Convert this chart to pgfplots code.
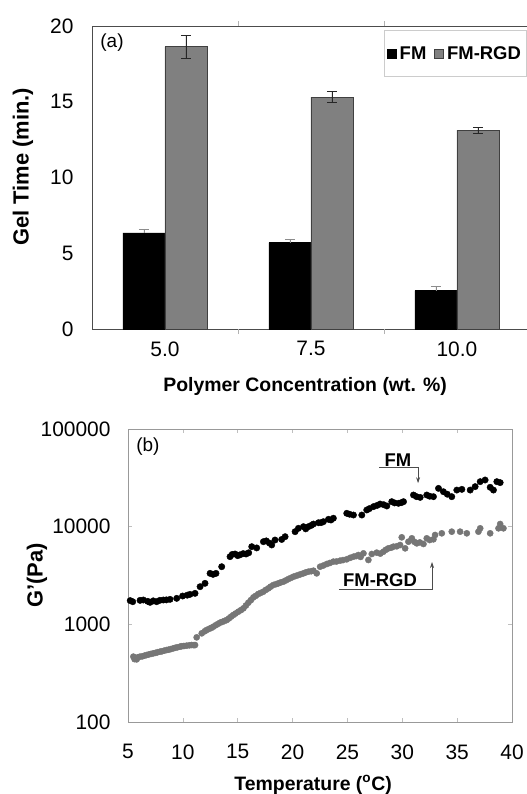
\documentclass[border=0pt]{standalone}
\usepackage{pgfplots}
\pgfplotsset{compat=1.18}
\usepackage{fontspec}
\setmainfont{Liberation Sans}
\usetikzlibrary{arrows.meta}
\definecolor{rgdbar}{HTML}{808080}
\definecolor{rgddot}{HTML}{767676}
\begin{document}
\begin{tikzpicture}
\path[use as bounding box] (0bp,0bp) rectangle (527bp,-794bp);
% ---------- (a) gel time bars ----------
\begin{axis}[
  at={(92bp,-329bp)}, anchor=south west,
  scale only axis, width=435bp, height=303bp,
  xmin=-0.5, xmax=2.48, ymin=0, ymax=20,
  ybar=0pt, bar width=42bp,
  xtick={0,1,2}, xticklabels={5.0,7.5,10.0},
  ytick={0,5,10,15,20},
  major tick length=0pt,
  extra x ticks={0.5,1.5}, extra x tick labels={},
  extra x tick style={major tick length=5bp, tick style={gray!60}},
  axis line style={draw=black!70, line width=0.8pt},
  tick label style={font=\fontsize{21}{24}\selectfont},
  /pgf/number format/assume math mode=true,
  xticklabel shift=9bp, yticklabel shift=15bp,
  label style={font=\fontsize{19.5}{22}\selectfont\bfseries},
  xlabel={Polymer Concentration (wt. \%)},
  ylabel={Gel Time (min.)},
  xlabel style={at={(axis description cs:0.49,-0.19)}, anchor=center},
  ylabel style={at={(axis description cs:-0.159,0.535)}, anchor=center,
    font=\fontsize{22}{24}\selectfont\bfseries},
  legend image code/.code={\draw[#1] (0bp,-4.5bp) rectangle (9bp,4.5bp);},
  legend columns=2,
  legend style={at={(axis description cs:0.998,0.987)}, anchor=north east,
    draw=black!20, line width=0.6pt, inner xsep=3bp, inner ysep=14bp,
    font=\fontsize{18.5}{22}\selectfont\bfseries,
    /tikz/every odd column/.append style={column sep=1bp},
    /tikz/every even column/.append style={column sep=6bp}},
]
\addplot[fill=black, draw=black, line width=0.6pt,
  error bars/.cd, y dir=plus, y explicit,
  error bar style={black!45, line width=0.6pt},
  error mark options={rotate=90, black!45, mark size=5bp, line width=0.6pt}]
  coordinates {(0,6.34) +- (0,0.21) (1,5.70) +- (0,0.20) (2,2.53) +- (0,0.30)};
\addplot[fill=rgdbar, draw=black!75, line width=0.8pt,
  error bars/.cd, y dir=both, y explicit,
  error bar style={black!85, line width=0.8pt},
  error mark options={rotate=90, black!85, mark size=5bp, line width=0.8pt}]
  coordinates {(0,18.63) +- (0,0.75) (1,15.31) +- (0,0.37) (2,13.12) +- (0,0.20)};
\legend{FM,FM-RGD}
\node[font=\fontsize{19}{22}\selectfont] at (axis description cs:0.046,0.944) {(a)};
\end{axis}
% ---------- (b) storage modulus ----------
\begin{axis}[
  at={(128bp,-722bp)}, anchor=south west,
  scale only axis, width=384bp, height=293bp,
  xmin=5, xmax=40, ymode=log, ymin=100, ymax=100000,
  xtick={5,10,...,40},
  ytick={100,1000,10000,100000}, yticklabels={100,1000,10000,100000},
  yminorticks=false,
  major tick length=4bp, tick style={gray!50, line width=0.6pt},
  axis line style={draw=black!40, line width=0.8pt},
  tick label style={font=\fontsize{21}{24}\selectfont},
  /pgf/number format/assume math mode=true,
  xticklabel shift=19bp, yticklabel shift=14bp,
  label style={font=\fontsize{19.5}{22}\selectfont\bfseries},
  xlabel={Temperature (\textsuperscript{o}C)},
  ylabel={G'(Pa)},
  xlabel style={at={(axis description cs:0.482,-0.215)}, anchor=center},
  ylabel style={at={(axis description cs:-0.237,0.5)}, anchor=center,
    font=\fontsize{22}{24}\selectfont\bfseries},
]
\addplot[only marks, mark=*, mark size=3.2bp, mark options={fill=black, draw=black}]
  coordinates {
(5.2,1750)(5.43,1706)(6.1,1760)(6.40,1775)(6.8,1720)(7.01,1680)(7.3,1740)(7.61,1706)
(7.9,1760)(8.22,1775)(8.5,1780)(8.83,1803)(9.44,1846)(9.98,1950)(10.4,1990)(10.65,2028)
(11.11,2077)(11.57,2430)(12.02,2630)(12.48,3327)(12.75,3250)(13.02,3327)(13.54,3892)
(14.30,4930)(14.5,5200)(14.76,5250)(15.0,5050)(15.21,5150)(15.5,5300)(15.76,5250)
(16.0,5400)(16.28,6240)(16.73,6060)(17.34,7020)(17.6,7150)(17.89,6800)(18.1,6500)
(18.40,7300)(19.01,7400)(19.32,7900)(20.23,8890)(20.53,9620)(20.99,10000)(21.2,9500)
(21.44,10000)(21.7,10300)(21.90,10640)(22.36,10980)(22.6,11000)(22.81,11250)(23.27,11890)
(23.5,11700)(23.72,12200)(24.94,13700)(25.2,13400)(25.55,13160)(26.31,13160)(26.76,14820)
(27.0,15300)(27.37,16030)(27.7,16500)(27.98,17060)(28.3,16800)(28.59,16290)(29.04,18030)
(29.30,17500)(29.65,17340)(29.9,17600)(30.11,18030)(31.02,21100)(31.3,20300)(31.63,19950)
(32.23,21100)(32.5,20500)(32.84,20280)(33.30,24660)(33.75,22800)(34.1,21500)(34.51,20280)
(34.97,23700)(35.43,24100)(36.19,23700)(36.64,25700)(37.10,28900)(37.55,30050)(38.01,25300)
(38.31,23700)(38.62,28900)(38.92,28250)
  };
\addplot[only marks, mark=*, mark size=3.1bp, mark options={fill=rgddot, draw=rgddot}]
  coordinates {
(5.49,467)(5.6,440)(5.79,438)(5.9,460)(6.09,467)(6.3,470)(6.5,478)(6.70,485)(6.9,492)
(7.1,498)(7.31,505)(7.5,510)(7.7,518)(7.92,525)(8.1,530)(8.3,538)(8.53,546)(8.7,550)
(8.9,558)(9.13,568)(9.3,575)(9.5,582)(9.74,591)(9.9,597)(10.1,600)(10.35,605)(10.6,610)
(10.81,614)(11.0,612)(11.11,614)(11.26,736)(11.72,809)(12.0,850)(12.17,875)(12.4,900)
(12.6,920)(12.78,946)(13.0,980)(13.2,1010)(13.39,1040)(13.6,1060)(13.8,1085)(14.00,1107)
(14.2,1150)(14.4,1200)(14.60,1247)(14.8,1290)(15.06,1348)(15.3,1400)(15.52,1458)
(15.75,1560)(15.97,1666)(16.2,1770)(16.43,1888)(16.65,1960)(16.88,2046)(17.1,2100)
(17.34,2160)(17.55,2250)(17.80,2337)(18.0,2430)(18.25,2528)(18.5,2580)(18.71,2630)
(18.9,2680)(19.16,2735)(19.4,2820)(19.62,2910)(19.85,2990)(20.08,3075)(20.3,3130)
(20.53,3199)(20.75,3260)(20.99,3327)(21.2,3400)(21.44,3461)(21.7,3500)(21.90,3542)
(22.20,3327)(22.51,3892)(22.8,4000)(23.12,4146)(23.4,4250)(23.72,4385)(24.0,4400)
(24.33,4487)(24.6,4550)(24.94,4634)(25.25,4800)(25.55,4930)(25.8,5000)(26.00,5125)
(26.2,4900)(26.46,5330)(26.91,4560)(27.22,5250)(27.67,5420)(28.0,5300)(28.28,5546)
(28.5,5800)(28.74,6000)(29.0,6100)(29.19,6240)(29.5,6300)(29.80,6490)(29.95,7780)
(30.26,6000)(30.56,7020)(30.87,7600)(31.1,7000)(31.32,6750)(31.6,6900)(31.93,6650)
(32.23,7600)(32.5,7300)(32.84,7420)(32.99,8220)(33.60,8550)(34.51,8890)(35.27,8890)
(35.88,8550)(36.94,8890)(37.10,9620)(38.01,8550)(38.77,9620)(38.92,10650)(39.22,9620)
  };
\node[font=\fontsize{19}{22}\selectfont] at (axis description cs:0.052,0.939) {(b)};
\node[font=\fontsize{18.5}{22}\selectfont\bfseries] at (axis cs:29.61,48100) {FM};
\draw[black!70, line width=0.7pt, -{Stealth[length=6bp,width=4bp]}]
  (axis cs:27.88,40740) -- (axis cs:31.44,40740) -- (axis cs:31.44,27900);
\node[font=\fontsize{18.5}{22}\selectfont\bfseries] at (axis cs:27.97,2840) {FM-RGD};
\draw[black!70, line width=0.7pt, -{Stealth[length=6bp,width=4bp]}]
  (axis cs:24.23,2297) -- (axis cs:32.71,2297) -- (axis cs:32.71,4345);
\end{axis}
\end{tikzpicture}
\end{document}
